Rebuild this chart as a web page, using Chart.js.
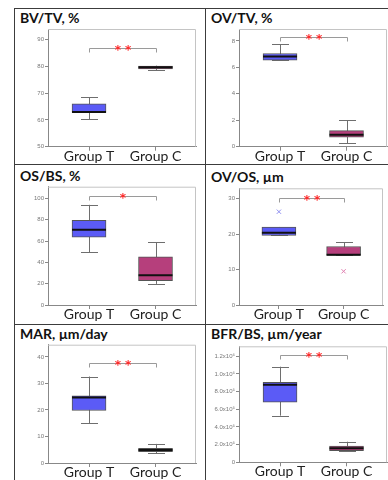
<!DOCTYPE html>
<html>
<head>
<meta charset="utf-8">
<script src="https://cdn.jsdelivr.net/npm/chart.js@4.4.1/dist/chart.umd.min.js"></script>
<style>
  body { margin: 0; background: #fff; width: 388px; height: 480px; overflow: hidden; position: relative; font-family: Lato, sans-serif; }
  .line { position: absolute; background: #3c3c3c; }
  .cell { position: absolute; }
  .title { position: absolute; font: bold 14px Lato, sans-serif; line-height: 14px; color: #111; white-space: nowrap; }
  canvas { position: absolute; left: 0; top: 0; }
</style>
</head>
<body>
<div id="page"></div>
<script>
// categories
const groups = ["Group T", "Group C"];
const titles = ["BV/TV, %", "OV/TV, %", "OS/BS, %", "OV/OS, µm", "MAR, µm/day", "BFR/BS, µm/year"];

// box stats per panel: [min, q1, median, q3, max]
const groupTStats = [
  [60.3, 62.8, 63.0, 66.0, 68.4],
  [6.53, 6.55, 6.82, 7.05, 7.75],
  [49.6, 63.7, 70.6, 79.4, 94.0],
  [19.6, 19.6, 20.4, 22.0, 22.0],
  [14.9, 19.8, 24.7, 25.3, 32.6],
  [528000, 680000, 879000, 906000, 1082000]
];
const groupCStats = [
  [78.7, 79.1, 79.7, 80.1, 80.3],
  [0.25, 0.73, 0.9, 1.22, 2.0],
  [19.8, 22.9, 28.0, 45.2, 59.0],
  [14.0, 14.0, 14.2, 16.5, 17.7],
  [3.7, 4.3, 4.9, 5.5, 7.2],
  [124000, 131000, 158000, 185000, 233000]
];
const outliersT = [null, null, null, 26.3, null, null];
const outliersC = [null, null, null, 9.5, null, null];

// significance bracket height and mark
const sigLevel = [87, 8.3, 102.5, 30.1, 37.7, 1210000];
const sigMark = ["**", "**", "*", "**", "**", "**"];

// y axes
const yMins = [50, 0, 0, 0, 0, 0];
const yMaxs = [94, 8.9, 111, 32.9, 44.6, 1313000];
const yTicks = [
  [50, 60, 70, 80, 90],
  [0, 2, 4, 6, 8],
  [0, 20, 40, 60, 80, 100],
  [0, 10, 20, 30],
  [0, 10, 20, 30, 40],
  [0, 200000, 400000, 600000, 800000, 1000000, 1200000]
];
const yTickLabels = [
  ["50", "60", "70", "80", "90"],
  ["0", "2", "4", "6", "8"],
  ["0", "20", "40", "60", "80", "100"],
  ["0", "10", "20", "30"],
  ["0", "10", "20", "30", "40"],
  ["0", "2.0x10⁵", "4.0x10⁵", "6.0x10⁵", "8.0x10⁵", "1.0x10⁶", "1.2x10⁶"]
];

const colors = ["#5b5bf6", "#b63f7c"];
const outlierColors = ["#8c8cf0", "#e07fb0"];

// layout of the table
const colLeft = [14, 205];
const colWidth = [191, 183];
const rowTop = [8, 164, 324];
const rowHeight = [156, 160, 156];
const plotTop = [21, 21, 22.7, 24.3, 20.7, 22.3];
const axisAt = [138.7, 138.7, 141, 141, 139, 138.3];
const titleBase = [15.3, 15.5, 17.7, 18.7, 15, 15.7];

const page = document.getElementById("page");

function addLine(x, y, w, h) {
  const d = document.createElement("div");
  d.className = "line";
  d.style.left = x + "px"; d.style.top = y + "px";
  d.style.width = w + "px"; d.style.height = h + "px";
  page.appendChild(d);
}
addLine(14, 8, 374, 1);
addLine(14, 164, 374, 1);
addLine(14, 324, 374, 1);
addLine(14, 8, 1, 472);
addLine(205, 8, 1, 472);

const boxPlugin = {
  id: "boxes",
  beforeDatasetsDraw(chart, args, opts) {
    const i = opts.panel;
    const ctx = chart.ctx;
    const x = chart.scales.x, y = chart.scales.y;
    ctx.save();
    // frame top/right
    const a = chart.chartArea;
    ctx.strokeStyle = "#c4c4c4";
    ctx.lineWidth = 1;
    ctx.beginPath();
    ctx.moveTo(a.left, a.top + 0.5);
    ctx.lineTo(a.right - 0.5, a.top + 0.5);
    ctx.lineTo(a.right - 0.5, a.bottom);
    ctx.stroke();
    // whiskers
    [groupTStats[i], groupCStats[i]].forEach((s, g) => {
      const cx = Math.round(x.getPixelForValue(g + 1)) + 0.5;
      ctx.strokeStyle = "#6e6e6e";
      ctx.beginPath();
      ctx.moveTo(cx, y.getPixelForValue(s[0]));
      ctx.lineTo(cx, y.getPixelForValue(s[4]));
      [s[0], s[4]].forEach(v => {
        const py = Math.round(y.getPixelForValue(v)) + 0.5;
        ctx.moveTo(cx - 8.5, py);
        ctx.lineTo(cx + 8.5, py);
      });
      ctx.stroke();
    });
    ctx.restore();
  },
  afterDatasetsDraw(chart, args, opts) {
    const i = opts.panel;
    const ctx = chart.ctx;
    const x = chart.scales.x, y = chart.scales.y;
    ctx.save();
    // medians
    [groupTStats[i], groupCStats[i]].forEach((s, g) => {
      const cx = x.getPixelForValue(g + 1);
      ctx.strokeStyle = "#111";
      ctx.lineWidth = 2;
      ctx.beginPath();
      const py = y.getPixelForValue(s[2]);
      ctx.moveTo(cx - 17, py);
      ctx.lineTo(cx + 17, py);
      ctx.stroke();
    });
    // bracket
    const x1 = Math.round(x.getPixelForValue(1)) + 0.5;
    const x2 = Math.round(x.getPixelForValue(2)) + 0.5;
    const by = Math.round(y.getPixelForValue(sigLevel[i])) + 0.5;
    ctx.strokeStyle = "#9a9a9a";
    ctx.lineWidth = 1;
    ctx.beginPath();
    ctx.moveTo(x1, by + 4);
    ctx.lineTo(x1, by);
    ctx.lineTo(x2, by);
    ctx.lineTo(x2, by + 4);
    ctx.stroke();
    ctx.fillStyle = "#ff2a2a";
    ctx.font = "bold 12px 'DejaVu Sans'";
    ctx.textAlign = "center";
    ctx.textBaseline = "alphabetic";
    ctx.fillText(sigMark[i].split("").join(" "), (x1 + x2) / 2, by + 5);
    ctx.restore();
  }
};

titles.forEach((t, i) => {
  const col = i % 2, row = Math.floor(i / 2);
  const cell = document.createElement("div");
  cell.className = "cell";
  cell.style.left = colLeft[col] + "px";
  cell.style.top = rowTop[row] + "px";
  cell.style.width = colWidth[col] + "px";
  cell.style.height = rowHeight[row] + "px";
  page.appendChild(cell);

  const title = document.createElement("div");
  title.className = "title";
  title.textContent = t;
  title.style.left = "6px";
  title.style.top = (titleBase[i] - 12.4) + "px";
  cell.appendChild(title);

  const canvas = document.createElement("canvas");
  canvas.width = colWidth[col];
  canvas.height = rowHeight[row];
  cell.appendChild(canvas);

  const H = rowHeight[row];
  const tStats = groupTStats[i], cStats = groupCStats[i];
  const outliers = [];
  const outColors = [];
  if (outliersT[i] !== null) { outliers.push({ x: 1, y: outliersT[i] }); outColors.push(outlierColors[0]); }
  if (outliersC[i] !== null) { outliers.push({ x: 2, y: outliersC[i] }); outColors.push(outlierColors[1]); }

  new Chart(canvas, {
    type: "bar",
    data: {
      datasets: [
        {
          type: "bar",
          data: [
            { x: 1, y: [tStats[1], tStats[3]] },
            { x: 2, y: [cStats[1], cStats[3]] }
          ],
          backgroundColor: colors,
          borderColor: "#555",
          borderWidth: 1,
          borderSkipped: false,
          barThickness: 34
        },
        {
          type: "scatter",
          data: outliers,
          pointStyle: "crossRot",
          radius: 3,
          borderWidth: 1,
          borderColor: outColors,
          backgroundColor: outColors
        }
      ]
    },
    options: {
      responsive: false,
      animation: false,
      devicePixelRatio: 1,
      layout: { padding: { top: plotTop[i], right: colWidth[col] - 182, left: 0, bottom: 0 } },
      plugins: {
        legend: { display: false },
        tooltip: { enabled: false },
        boxes: { panel: i }
      },
      scales: {
        x: {
          type: "linear",
          offset: false,
          min: 0.383,
          max: 2.609,
          afterFit: s => { s.height = H - axisAt[i]; },
          afterBuildTicks: s => { s.ticks = [{ value: 1 }, { value: 2 }]; },
          grid: { display: true, offset: false, drawOnChartArea: false, tickLength: 4, color: "#888" },
          border: { display: true, color: "#888" },
          ticks: {
            autoSkip: false,
            maxRotation: 0,
            padding: -3,
            color: "#222",
            font: { family: "Lato", size: 14 },
            callback: v => groups[v - 1]
          }
        },
        y: {
          min: yMins[i],
          max: yMaxs[i],
          afterFit: s => { s.width = 34; },
          afterBuildTicks: s => { s.ticks = yTicks[i].map(v => ({ value: v })); },
          grid: { display: true, drawOnChartArea: false, tickLength: 3, color: "#888" },
          border: { display: true, color: "#888" },
          ticks: {
            padding: 1,
            color: "#777",
            font: { family: "Liberation Sans", size: 6 },
            callback: (v, idx) => yTickLabels[i][yTicks[i].indexOf(v)]
          }
        }
      }
    },
    plugins: [boxPlugin]
  });
});
</script>
</body>
</html>
